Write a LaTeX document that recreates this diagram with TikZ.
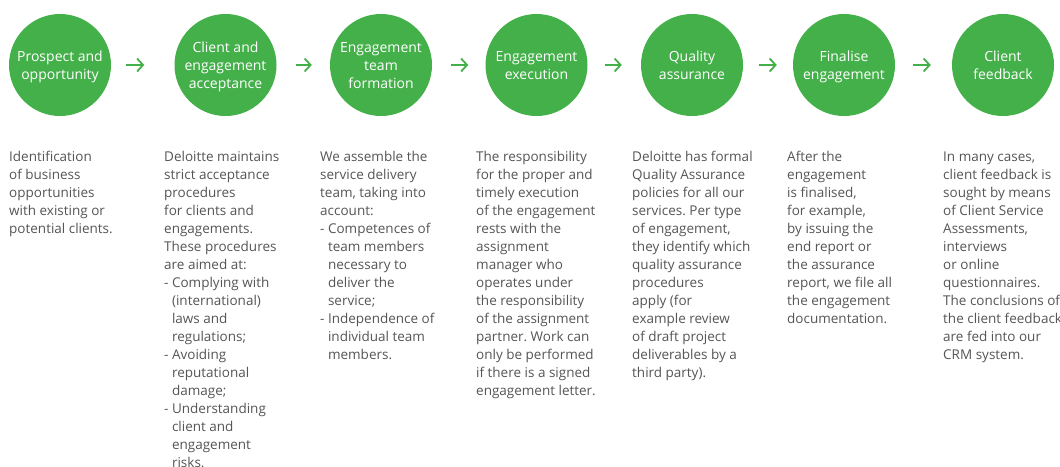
\documentclass[tikz,border=0pt]{standalone}
\usepackage{fontspec}
\setmainfont{Open Sans}
\usetikzlibrary{arrows.meta}
\definecolor{Green}{RGB}{68,176,74}
\definecolor{Ink}{RGB}{85,85,85}
\newcommand\ind{\phantom{- }}
\newcommand\topgap{\rule{0pt}{16.6pt}}
\frenchspacing
\tikzset{
  stage/.style={circle, fill=Green, minimum size=102pt, inner sep=0pt,
    text=white, align=center, font=\fontsize{14}{18}\selectfont},
  flow/.style={Green, line width=1.8pt,
    -{Straight Barb[length=6pt,width=13pt]}},
  note/.style={anchor=north west, inner sep=0pt, align=left, text=Ink,
    font=\fontsize{13.5}{18}\selectfont\frenchspacing}}

\begin{document}
\begin{tikzpicture}[x=1pt,y=-1pt]
\useasboundingbox (0,0) rectangle (1060,466);
\clip (0,0) rectangle (1060,466);
\foreach \x/\n/\t in {
  60/pro/{Prospect and\\opportunity},
  225.5/acc/{Client and\\engagement\\acceptance},
  381/team/{Engagement\\team\\formation},
  536.5/exe/{Engagement\\execution},
  692/qa/{Quality\\assurance},
  844/fin/{Finalise\\engagement},
  1003/feed/{Client\\feedback}}{
  \node[stage] (\n) at (\x,65) {\topgap\t\strut};}
\foreach \a/\b/\s/\e in {
  pro/acc/15/30, acc/team/19/18, team/exe/19/17,
  exe/qa/17/19, qa/fin/16/16, fin/feed/18/21}{
  \draw[flow, shorten <=\s pt, shorten >=\e pt] (\a) -- (\b);}
\begin{scope}[every node/.style={note}]
\draw
  (9,148.4) node (prodesc) {\strut Identification\\of business\\opportunities\\with existing or\\potential clients.}
  (164,148.4) node (accdesc) {\strut Deloitte maintains\\strict acceptance\\procedures\\for clients and\\engagements.\\These procedures\\are aimed at:\\- Complying with\\\ind(international)\\\ind laws and\\\ind regulations;\\- Avoiding\\\ind reputational\\\ind damage;\\- Understanding\\\ind client and\\\ind engagement\\\ind risks.}
  (320,148.4) node (teamdesc) {\strut We assemble the\\service delivery\\team, taking into\\account:\\- Competences of\\\ind team members\\\ind necessary to\\\ind deliver the\\\ind service;\\- Independence of\\\ind individual team\\\ind members.}
  (476,148.4) node (exedesc) {\strut The responsibility\\for the proper and\\timely execution\\of the engagement\\rests with the\\assignment\\manager who\\operates under\\the responsibility\\of the assignment\\partner. Work can\\only be performed\\if there is a signed\\engagement letter.}
  (632,148.4) node (qadesc) {\strut Deloitte has formal\\Quality Assurance\\policies for all our\\services. Per type\\of engagement,\\they identify which\\quality assurance\\procedures\\apply (for\\example review\\of draft project\\deliverables by a\\third party).}
  (787,148.4) node (findesc) {\strut After the\\engagement\\is finalised,\\for example,\\by issuing the\\end report or\\the assurance\\report, we file all\\the engagement\\documentation.}
  (943,148.4) node (feeddesc) {\strut In many cases,\\client feedback is\\sought by means\\of Client Service\\Assessments,\\interviews\\or online\\questionnaires.\\The conclusions of\\the client feedback\\are fed into our\\CRM system.}
  ;
\end{scope}
\end{tikzpicture}
\end{document}
